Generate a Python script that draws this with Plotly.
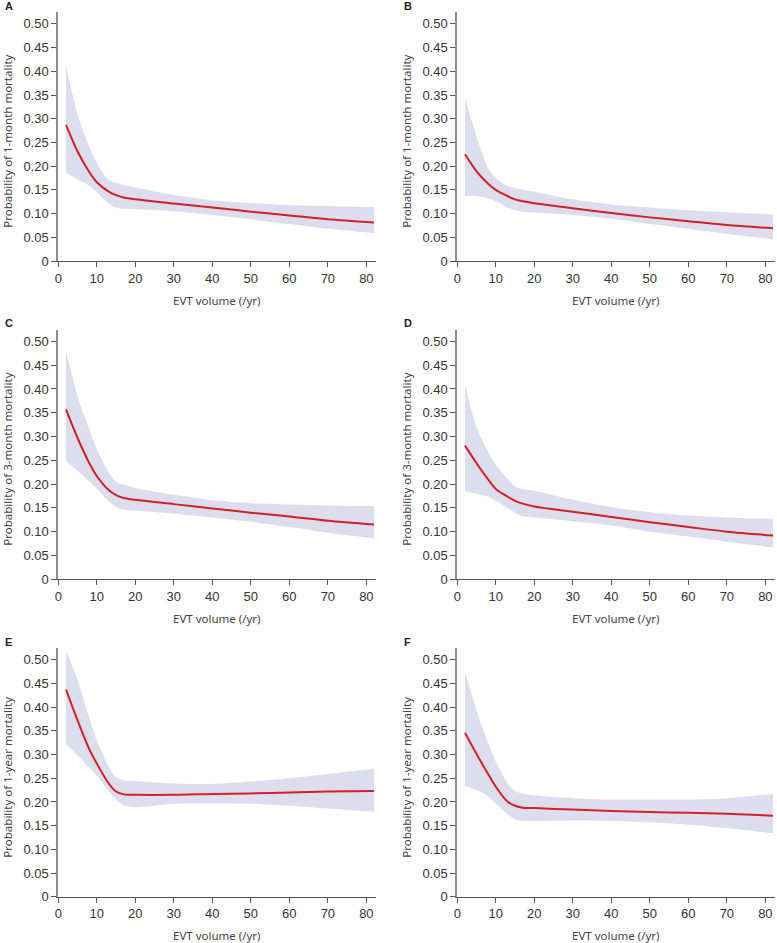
import plotly.graph_objects as go
from plotly.subplots import make_subplots

W, H = 777, 943

# EVT volume (/yr) sample points
evt_volume = [2, 5, 8, 10, 13, 15, 17, 20, 30, 40, 50, 60, 70, 82]

# A: 1-month mortality
a_fit = [0.287, 0.231, 0.188, 0.166, 0.147, 0.139, 0.134, 0.130, 0.121, 0.113, 0.104, 0.096, 0.088, 0.081]
a_upper = [0.413, 0.309, 0.242, 0.206, 0.171, 0.165, 0.160, 0.155, 0.139, 0.128, 0.122, 0.118, 0.116, 0.114]
a_lower = [0.186, 0.172, 0.159, 0.145, 0.122, 0.113, 0.110, 0.109, 0.105, 0.097, 0.088, 0.078, 0.068, 0.059]

# B: 1-month mortality
b_fit = [0.225, 0.189, 0.163, 0.150, 0.137, 0.130, 0.126, 0.122, 0.111, 0.101, 0.092, 0.084, 0.076, 0.069]
b_upper = [0.344, 0.262, 0.196, 0.175, 0.158, 0.154, 0.150, 0.146, 0.130, 0.119, 0.113, 0.107, 0.103, 0.098]
b_lower = [0.137, 0.137, 0.132, 0.126, 0.113, 0.107, 0.104, 0.102, 0.097, 0.089, 0.078, 0.068, 0.057, 0.046]

# C: 3-month mortality
c_fit = [0.357, 0.297, 0.245, 0.217, 0.188, 0.177, 0.171, 0.167, 0.158, 0.149, 0.140, 0.132, 0.123, 0.115]
c_upper = [0.478, 0.385, 0.316, 0.274, 0.226, 0.205, 0.199, 0.192, 0.178, 0.166, 0.160, 0.157, 0.155, 0.154]
c_lower = [0.248, 0.228, 0.206, 0.191, 0.165, 0.152, 0.146, 0.144, 0.138, 0.130, 0.121, 0.110, 0.098, 0.086]

# D: 3-month mortality
d_fit = [0.281, 0.244, 0.210, 0.190, 0.174, 0.165, 0.159, 0.153, 0.142, 0.131, 0.120, 0.110, 0.100, 0.092]
d_upper = [0.409, 0.320, 0.268, 0.240, 0.212, 0.195, 0.190, 0.186, 0.167, 0.152, 0.141, 0.134, 0.130, 0.127]
d_lower = [0.185, 0.180, 0.174, 0.165, 0.150, 0.140, 0.132, 0.130, 0.122, 0.113, 0.100, 0.090, 0.079, 0.067]

# E: 1-year mortality
e_fit = [0.437, 0.372, 0.312, 0.281, 0.240, 0.222, 0.216, 0.215, 0.215, 0.217, 0.218, 0.220, 0.222, 0.223]
e_upper = [0.520, 0.458, 0.378, 0.330, 0.276, 0.252, 0.246, 0.244, 0.239, 0.238, 0.243, 0.250, 0.259, 0.270]
e_lower = [0.323, 0.298, 0.273, 0.255, 0.224, 0.205, 0.193, 0.189, 0.196, 0.197, 0.196, 0.192, 0.186, 0.179]

# F: 1-year mortality
f_fit = [0.346, 0.301, 0.259, 0.232, 0.201, 0.192, 0.188, 0.187, 0.184, 0.181, 0.179, 0.177, 0.175, 0.171]
f_upper = [0.476, 0.393, 0.325, 0.285, 0.240, 0.223, 0.218, 0.214, 0.208, 0.205, 0.205, 0.205, 0.208, 0.217]
f_lower = [0.235, 0.225, 0.212, 0.196, 0.175, 0.163, 0.160, 0.160, 0.161, 0.160, 0.157, 0.152, 0.145, 0.134]

panel_letters = ['A', 'B', 'C', 'D', 'E', 'F']
y_titles = ['Probability of 1-month mortality', 'Probability of 1-month mortality',
            'Probability of 3-month mortality', 'Probability of 3-month mortality',
            'Probability of 1-year mortality', 'Probability of 1-year mortality']
x_title = 'EVT volume (/yr)'
y_tickvals = [0, 0.05, 0.10, 0.15, 0.20, 0.25, 0.30, 0.35, 0.40, 0.45, 0.50]
y_ticktext = ['0', '0.05', '0.10', '0.15', '0.20', '0.25', '0.30', '0.35', '0.40', '0.45', '0.50']

panels = [(a_fit, a_upper, a_lower), (b_fit, b_upper, b_lower),
          (c_fit, c_upper, c_lower), (d_fit, d_upper, d_lower),
          (e_fit, e_upper, e_lower), (f_fit, f_upper, f_lower)]

RED = '#d31f26'
BAND = '#dcdeee'
TICK_FONT = dict(family='Liberation Sans, Arial', size=13, color='#333333')
TITLE_FONT = dict(family='Noto Sans, Open Sans', size=11.5, color='#444444')
SPLINE = dict(shape='spline', smoothing=0.8)

# plot area edges in pixels
col_px = [(58.3, 376.0), (457.3, 775.0)]
row_px = [(12.0, 261.0), (329.5, 579.3), (648.0, 896.7)]

fig = make_subplots(rows=3, cols=2)

for i, (fit, upper, lower) in enumerate(panels):
    r, c = i // 2 + 1, i % 2 + 1
    fig.add_trace(go.Scatter(x=evt_volume, y=lower, mode='lines', line=dict(width=0, **SPLINE),
                             hoverinfo='skip', showlegend=False), row=r, col=c)
    fig.add_trace(go.Scatter(x=evt_volume, y=upper, mode='lines', fill='tonexty', fillcolor=BAND,
                             line=dict(width=0, **SPLINE), hoverinfo='skip', showlegend=False),
                  row=r, col=c)
    fig.add_trace(go.Scatter(x=evt_volume, y=fit, mode='lines',
                             line=dict(color=RED, width=2, **SPLINE), showlegend=False),
                  row=r, col=c)

    x0, x1 = col_px[c - 1]
    y0, y1 = row_px[r - 1]
    fig.update_xaxes(domain=[x0 / W, x1 / W], range=[0, 82.5], tickvals=list(range(0, 90, 10)),
                     showgrid=False, zeroline=False, showline=True, linecolor='#555555', linewidth=1,
                     ticks='outside', ticklen=5, tickcolor='#555555', tickfont=TICK_FONT,
                     automargin=False, row=r, col=c)
    fig.update_yaxes(domain=[1 - y1 / H, 1 - y0 / H], range=[0, 0.525], tickvals=y_tickvals,
                     ticktext=y_ticktext, showgrid=False, zeroline=False, showline=True,
                     linecolor='#8c8c8c', linewidth=2, ticks='outside', ticklen=5, tickcolor='#555555',
                     tickfont=TICK_FONT, automargin=False, row=r, col=c)

    # axis titles and panel letter
    fig.add_annotation(text=x_title, x=(x0 + x1) / 2 / W, y=1 - (y1 + 39) / H, xref='paper', yref='paper',
                       showarrow=False, font=TITLE_FONT, xanchor='center', yanchor='middle')
    fig.add_annotation(text=y_titles[i], x=(x0 - 51) / W, y=1 - ((y0 + y1) / 2 + 5) / H,
                       xref='paper', yref='paper', textangle=-90, showarrow=False, font=TITLE_FONT,
                       xanchor='center', yanchor='middle')
    fig.add_annotation(text='<b>%s</b>' % panel_letters[i], x=(x0 - 55) / W, y=1 - (y0 - 6) / H,
                       xref='paper', yref='paper', showarrow=False, xanchor='left', yanchor='middle',
                       font=dict(family='Liberation Sans, Arial', size=11, color='#222222'))

fig.update_layout(width=W, height=H, margin=dict(l=0, r=0, t=0, b=0),
                  plot_bgcolor='white', paper_bgcolor='white', showlegend=False)

# page body margin would otherwise push the figure past the window
fig.write_html('out.html', config={'displayModeBar': False},
               post_script="document.body.style.margin='0';")
